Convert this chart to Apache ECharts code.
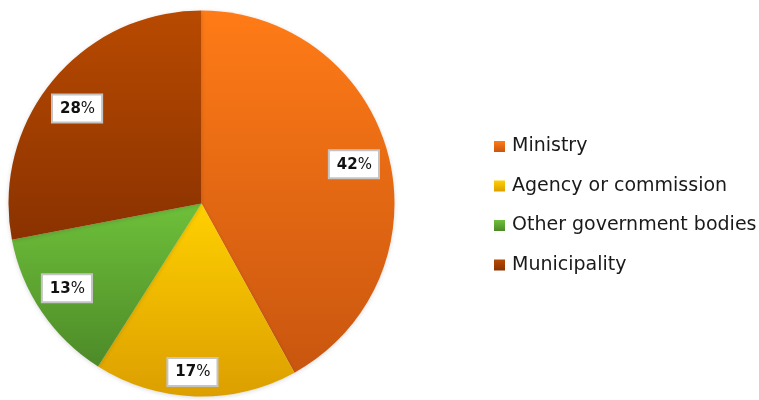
<!DOCTYPE html>
<html>
<head>
<meta charset="utf-8">
<style>
  html, body { margin: 0; padding: 0; background: #ffffff; }
  #chart { width: 759px; height: 400px; }
</style>
<script src="https://cdn.jsdelivr.net/npm/echarts@6/dist/echarts.min.js"></script>
</head>
<body>
<div id="chart"></div>
<script>
// Share of responding bodies by type
const categories = ['Ministry', 'Agency or commission', 'Other government bodies', 'Municipality'];
const shares = [42, 17, 13, 28];

// Vertical gradient stops (top, bottom) for each slice
const topColors = ['#ff7b17', '#ffd000', '#6ec03a', '#b84a00'];
const bottomColors = ['#c9560f', '#dc9f00', '#4d8a28', '#8a3200'];

// Small nudges for the percentage boxes, in pixels
const labelNudge = [[-4, 1], [-4, 7], [-1, -6], [0, 8]];

const chart = echarts.init(document.getElementById('chart'));

const center = [201.5, 203.5];
const outerR = 193;

const sliceData = categories.map((name, i) => ({
  name: name,
  value: shares[i],
  itemStyle: {
    color: new echarts.graphic.LinearGradient(0, 0, 0, 1, [
      { offset: 0, color: topColors[i] },
      { offset: 1, color: bottomColors[i] }
    ])
  }
}));

const labelData = categories.map((name, i) => ({
  name: name,
  value: shares[i],
  label: { offset: labelNudge[i] }
}));

chart.setOption({
  animation: false,
  legend: {
    orient: 'vertical',
    left: 489,
    top: 132,
    itemGap: 20.5,
    itemWidth: 11,
    itemHeight: 11,
    icon: 'rect',
    textStyle: {
      fontFamily: 'DejaVu Sans',
      fontSize: 19,
      color: '#1a1a1a',
      padding: [0, 0, 0, 2]
    },
    data: categories
  },
  series: [
    {
      type: 'pie',
      center: center,
      radius: outerR,
      startAngle: 90,
      clockwise: true,
      silent: true,
      label: { show: false },
      labelLine: { show: false },
      itemStyle: {
        shadowBlur: 4,
        shadowColor: 'rgba(0,0,0,0.15)',
        shadowOffsetY: 1
      },
      data: sliceData
    },
    {
      // ring carrying the percentage boxes at ~0.82 of the radius
      name: 'labels',
      type: 'pie',
      center: center,
      radius: [124, outerR],
      startAngle: 90,
      clockwise: true,
      silent: true,
      legendHoverLink: false,
      itemStyle: { color: 'rgba(0,0,0,0)' },
      labelLine: { show: false },
      label: {
        show: true,
        position: 'inside',
        formatter: p => '{n|' + p.value + '}{p|%}',
        backgroundColor: '#ffffff',
        borderColor: '#c4c4c4',
        borderWidth: 2,
        padding: [6, 6, 5, 7],
        rich: {
          n: { fontFamily: 'DejaVu Sans', fontWeight: 'bold', fontSize: 15, color: '#111111' },
          p: { fontFamily: 'DejaVu Sans', fontSize: 15, color: '#111111' }
        }
      },
      data: labelData
    }
  ]
});
</script>
</body>
</html>
